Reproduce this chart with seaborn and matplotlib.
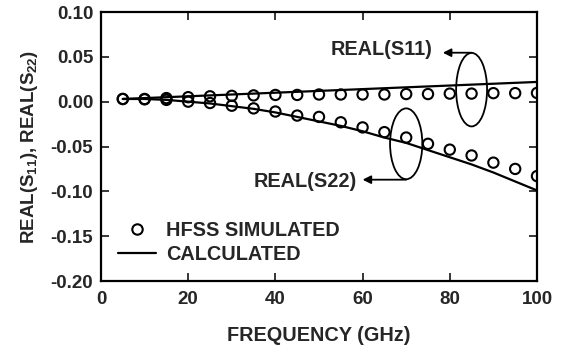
import matplotlib
matplotlib.use("Agg")
import matplotlib.pyplot as plt
from matplotlib.patches import Ellipse
from matplotlib.lines import Line2D
import seaborn as sns
import pandas as pd

# ---- data ----
freq_sim = [5, 10, 15, 20, 25, 30, 35, 40, 45, 50, 55, 60, 65, 70, 75, 80, 85, 90, 95, 100]
s11_sim = [0.003, 0.003, 0.004, 0.005, 0.006, 0.0065, 0.007, 0.0075, 0.0075, 0.008,
           0.008, 0.008, 0.008, 0.0085, 0.0085, 0.009, 0.009, 0.0095, 0.0095, 0.0097]
s22_sim = [0.003, 0.0026, 0.002, 0.000, -0.0015, -0.0045, -0.0075, -0.011, -0.0155, -0.017,
           -0.023, -0.0287, -0.034, -0.040, -0.047, -0.0535, -0.060, -0.068, -0.075, -0.083]
freq_calc = [5, 10, 15, 20, 25, 30, 35, 40, 45, 50, 55, 60, 65, 70, 75, 80, 85, 90, 95, 100]
s11_calc = [0.003, 0.004, 0.005, 0.006, 0.007, 0.008, 0.009, 0.010, 0.011, 0.012,
            0.013, 0.014, 0.015, 0.016, 0.017, 0.018, 0.019, 0.020, 0.021, 0.022]
s22_calc = [0.003, 0.003, 0.002, 0.000, -0.002, -0.005, -0.008, -0.012, -0.017, -0.022,
            -0.027, -0.033, -0.040, -0.046, -0.054, -0.062, -0.070, -0.079, -0.089, -0.099]
x_ticks = [0, 20, 40, 60, 80, 100]
y_ticks = [-0.20, -0.15, -0.10, -0.05, 0.00, 0.05, 0.10]

sns.set_style("ticks")
plt.rcParams["font.family"] = ["Liberation Sans", "DejaVu Sans"]
plt.rcParams["font.weight"] = "bold"
plt.rcParams["mathtext.fontset"] = "custom"
plt.rcParams["mathtext.rm"] = "Liberation Sans:bold"
plt.rcParams["mathtext.bf"] = "Liberation Sans:bold"
plt.rcParams["mathtext.default"] = "bf"

fig = plt.figure(figsize=(5.63, 3.52), dpi=100)
ax = fig.add_axes([0.1794, 0.2017, 0.7744, 0.7642])

sim = pd.DataFrame({"f": freq_sim, "s11": s11_sim, "s22": s22_sim})
calc = pd.DataFrame({"f": freq_calc, "s11": s11_calc, "s22": s22_calc})

for col in ["s11", "s22"]:
    sns.lineplot(data=calc, x="f", y=col, ax=ax, color="black", linewidth=1.6, zorder=2)
    sns.scatterplot(data=sim, x="f", y=col, ax=ax, marker="o", s=55,
                    facecolor="none", edgecolor="black", linewidth=1.5, zorder=3)

ax.set_xlim(0, 100)
ax.set_ylim(-0.20, 0.10)
ax.set_xticks(x_ticks)
ax.set_yticks(y_ticks)
ax.set_yticklabels([f"{v:.2f}" for v in y_ticks])
ax.tick_params(direction="in", length=6, width=1.3, top=True, right=True, labelsize=13.5)
ax.tick_params(axis="x", pad=7.5)
ax.tick_params(axis="y", pad=5.5)
for lab in ax.get_xticklabels() + ax.get_yticklabels():
    lab.set_fontweight("bold")
for sp in ax.spines.values():
    sp.set_linewidth(1.6)
    sp.set_color("black")

ax.set_xlabel("FREQUENCY (GHz)", fontsize=14.3, fontweight="bold", labelpad=13)
ax.set_ylabel("REAL(S$_{11}$), REAL(S$_{22}$)", fontsize=13.5, fontweight="bold", labelpad=8)

# annotations
ax.add_patch(Ellipse((85, 0.0134), 7.1, 0.082, fill=False, edgecolor="black", lw=1.3, zorder=4))
ax.add_patch(Ellipse((70, -0.047), 7.4, 0.079, fill=False, edgecolor="black", lw=1.3, zorder=4))
ax.annotate("", xy=(78.4, 0.0546), xytext=(85, 0.0546),
            arrowprops=dict(arrowstyle="-|>", color="black", lw=1.3, mutation_scale=12,
                            shrinkA=0, shrinkB=0))
ax.annotate("", xy=(60, -0.087), xytext=(70, -0.087),
            arrowprops=dict(arrowstyle="-|>", color="black", lw=1.3, mutation_scale=12,
                            shrinkA=0, shrinkB=0))
ax.text(76, 0.058, "REAL(S11)", ha="right", va="center", fontsize=14.3, fontweight="bold")
ax.text(58.7, -0.089, "REAL(S22)", ha="right", va="center", fontsize=14.3, fontweight="bold")

handles = [Line2D([], [], ls="none", marker="o", markersize=7.5, markerfacecolor="none",
                  markeredgecolor="black", markeredgewidth=1.5),
           Line2D([], [], color="black", lw=1.6)]
ax.legend(handles, ["HFSS SIMULATED", "CALCULATED"], loc="lower left",
          bbox_to_anchor=(0.04, 0.062), frameon=False, borderaxespad=0, borderpad=0,
          handlelength=1.9, handletextpad=0.5, labelspacing=0.28,
          prop={"size": 14.3, "weight": "bold"})

fig.savefig("out.png", dpi=100)
